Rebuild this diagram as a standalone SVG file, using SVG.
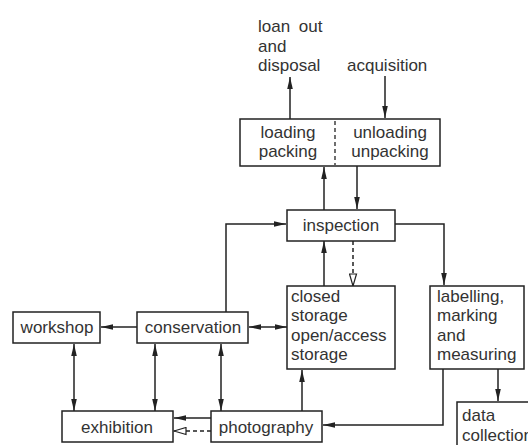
<svg xmlns="http://www.w3.org/2000/svg" width="528" height="445" viewBox="0 0 528 445">
  <defs>
    <marker id="head" markerUnits="userSpaceOnUse" markerWidth="13" markerHeight="8" refX="12" refY="4" orient="auto-start-reverse">
      <path d="M0,1.2 L12,4 L0,6.8 Z" fill="#222"/>
    </marker>
    <marker id="open" markerUnits="userSpaceOnUse" markerWidth="14" markerHeight="9" refX="13" refY="4.5" orient="auto">
      <path d="M1,1 L13,4.5 L1,8 Z" fill="#fff" stroke="#222" stroke-width="1.2"/>
    </marker>
    <style>
      .box { fill: #fff; stroke: #222; stroke-width: 1.5; }
      .t { font-family: "Liberation Sans", Arial, sans-serif; font-size: 17px; fill: #333; }
      .m { text-anchor: middle; }
      .ln { fill: none; stroke: #222; stroke-width: 1.5; }
      .arr { marker-end: url(#head); }
      .both { marker-start: url(#head); marker-end: url(#head); }
      .dash { fill: none; stroke: #222; stroke-width: 1.5; stroke-dasharray: 4 3; marker-end: url(#open); }
    </style>
  </defs>
  <rect width="528" height="445" fill="#fff"/>

  <g id="outside-labels">
    <text class="t" x="258" y="32" word-spacing="4">loan out</text>
    <text class="t" x="258" y="52">and</text>
    <text class="t" x="258" y="71">disposal</text>
    <text class="t" x="347" y="71">acquisition</text>
  </g>

  <g id="connectors">
    <!-- loading out to disposal -->
    <line class="ln arr" x1="290" y1="119" x2="290" y2="77"/>
    <!-- acquisition into unloading -->
    <line class="ln arr" x1="385" y1="76" x2="385" y2="118"/>
    <!-- inspection <-> packing boxes -->
    <line class="ln arr" x1="324" y1="210" x2="324" y2="167"/>
    <line class="ln arr" x1="357" y1="166" x2="357" y2="209"/>
    <!-- conservation up to inspection -->
    <polyline class="ln arr" points="226,312 226,224 286,224"/>
    <!-- inspection to labelling -->
    <polyline class="ln arr" points="395,224 444,224 444,285"/>
    <!-- storage up to inspection -->
    <line class="ln arr" x1="324" y1="286" x2="324" y2="241"/>
    <!-- inspection down to storage (dashed) -->
    <line class="dash" x1="353" y1="241" x2="353" y2="286"/>
    <!-- labelling to data collection -->
    <line class="ln arr" x1="498" y1="369" x2="498" y2="401"/>
    <!-- labelling to photography -->
    <polyline class="ln arr" points="443,369 443,425 323,425"/>
    <!-- conservation to workshop -->
    <line class="ln arr" x1="137" y1="327" x2="101" y2="327"/>
    <!-- conservation <-> storage -->
    <line class="ln both" x1="249" y1="327" x2="287" y2="327"/>
    <!-- verticals to exhibition / photography -->
    <line class="ln both" x1="74" y1="344" x2="74" y2="411"/>
    <line class="ln both" x1="155" y1="344" x2="155" y2="411"/>
    <line class="ln both" x1="221" y1="344" x2="221" y2="411"/>
    <!-- photography up to storage -->
    <line class="ln arr" x1="302" y1="411" x2="302" y2="370"/>
    <!-- photography to exhibition -->
    <line class="ln arr" x1="211" y1="418" x2="174" y2="418"/>
    <line class="dash" x1="211" y1="431" x2="174" y2="431"/>
  </g>

  <g id="packing">
    <rect class="box" x="240" y="119" width="200" height="47"/>
    <line x1="335" y1="121" x2="335" y2="165" stroke="#222" stroke-width="1.3" stroke-dasharray="4 3"/>
    <text class="t m" x="288" y="138">loading</text>
    <text class="t m" x="288" y="157">packing</text>
    <text class="t m" x="390" y="138">unloading</text>
    <text class="t m" x="390" y="157">unpacking</text>
  </g>

  <g id="inspection">
    <rect class="box" x="287" y="210" width="108" height="31"/>
    <text class="t m" x="341" y="231">inspection</text>
  </g>

  <g id="storage">
    <rect class="box" x="287" y="286" width="108" height="83"/>
    <text class="t" x="291" y="302">closed</text>
    <text class="t" x="291" y="321">storage</text>
    <text class="t" x="291" y="341">open/access</text>
    <text class="t" x="291" y="360">storage</text>
  </g>

  <g id="labelling">
    <rect class="box" x="430" y="286" width="94" height="83"/>
    <text class="t" x="437" y="302">labelling,</text>
    <text class="t" x="437" y="321">marking</text>
    <text class="t" x="437" y="341">and</text>
    <text class="t" x="437" y="360">measuring</text>
  </g>

  <g id="data-collection">
    <rect class="box" x="457" y="402" width="90" height="60"/>
    <text class="t" x="462" y="421">data</text>
    <text class="t" x="462" y="441">collection</text>
  </g>

  <g id="workshop">
    <rect class="box" x="13" y="312" width="87" height="31"/>
    <text class="t m" x="57" y="333">workshop</text>
  </g>

  <g id="conservation">
    <rect class="box" x="137" y="312" width="111" height="31"/>
    <text class="t m" x="193" y="333">conservation</text>
  </g>

  <g id="exhibition">
    <rect class="box" x="62" y="411" width="111" height="31"/>
    <text class="t m" x="117" y="433">exhibition</text>
  </g>

  <g id="photography">
    <rect class="box" x="211" y="411" width="111" height="31"/>
    <text class="t m" x="266" y="433">photography</text>
  </g>
</svg>
